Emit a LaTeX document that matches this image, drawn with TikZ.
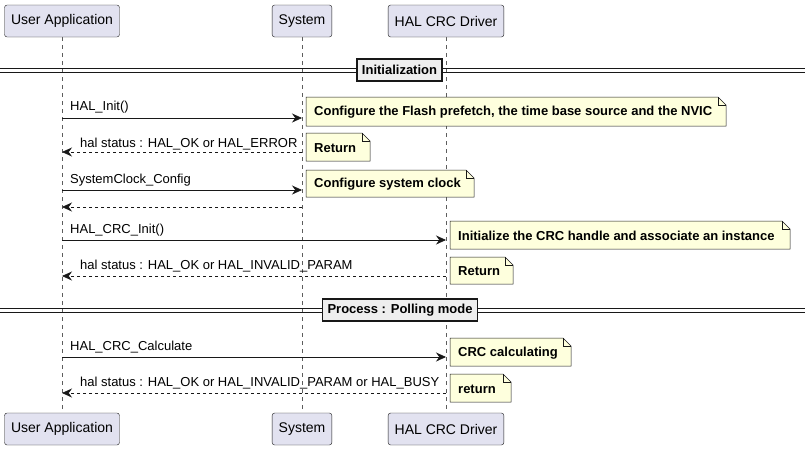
\documentclass[tikz,border=0pt]{standalone}
\usepackage{fontspec}
\setmainfont{Liberation Sans}
\usetikzlibrary{arrows.meta}
\definecolor{part}{HTML}{E2E2F0}
\definecolor{notef}{HTML}{FEFFDD}
\definecolor{ln}{HTML}{181818}
\definecolor{divf}{HTML}{EEEEEE}
\begin{document}
\begin{tikzpicture}[x=1pt,y=-1pt,
  font=\fontsize{13}{15}\selectfont,
  part/.style={draw=ln,fill=part,rounded corners=2.5pt,minimum height=32pt,inner xsep=6.5pt,font=\fontsize{14}{16}\selectfont},
  life/.style={draw=ln!70,dash pattern=on 4pt off 4pt,line width=0.5pt},
  msg/.style={draw=ln,line width=0.7pt,-{Stealth[length=10pt,width=9pt]}},
  ret/.style={msg,dash pattern=on 3pt off 3pt},
  mlab/.style={anchor=south west,inner sep=1pt},
  divb/.style={draw=ln,fill=divf,line width=1.2pt,font=\bfseries\fontsize{13}{15}\selectfont,minimum height=22pt,inner xsep=5pt}]
\useasboundingbox (0,0) rectangle (805,450);
\def\notebox#1#2#3#4#5#6{%
  \draw[ln,fill=notef,line width=0.5pt] (#2,#3) -- ({#4-8},#3) -- (#4,{#3+8}) -- (#4,#5) -- (#2,#5) -- cycle;
  \draw[ln,line width=0.5pt] ({#4-8},#3) -- ({#4-8},{#3+8}) -- (#4,{#3+8});
  \node[anchor=west,font=\bfseries\fontsize{13}{15}\selectfont,inner sep=0pt] (#1) at ({#2+8},{(#3+#5)/2+1}) {#6};}
% lifelines
\coordinate (ua1) at (62,37); \coordinate (ua2) at (62,413);
\coordinate (sy1) at (302,37); \coordinate (sy2) at (302,413);
\coordinate (hd1) at (446,37); \coordinate (hd2) at (446,413);
\draw[life] (ua1)--(ua2); \draw[life] (sy1)--(sy2); \draw[life] (hd1)--(hd2);
% participants
\node[part] (uaT) at (62,21) {User Application};
\node[part] (syT) at (302,21) {System};
\node[part] (hdT) at (446,21) {HAL CRC Driver};
\node[part] (uaB) at (62,429) {User Application};
\node[part] (syB) at (302,429) {System};
\node[part] (hdB) at (446,429) {HAL CRC Driver};
% dividers
\draw[ln,line width=0.7pt] (0,68)--(805,68) (0,72)--(805,72);
\node[divb] (d1) at (399.5,70) {Initialization};
\draw[ln,line width=0.7pt] (0,308)--(805,308) (0,312)--(805,312);
\node[divb] (d2) at (400,310) {Process : Polling mode};
% messages
\coordinate (u1) at (62,118); \coordinate (s1) at (302,118);
\draw[msg] (u1)--(s1); \node[mlab] at (69,114) {HAL\_Init()};
\notebox{n1}{306}{97}{726}{126}{Configure the Flash prefetch, the time base source and the NVIC}
\coordinate (u2) at (62,152); \coordinate (s2) at (302,152);
\draw[ret] (s2)--(u2); \node[mlab] at (79,151) {hal status : HAL\_OK or HAL\_ERROR};
\notebox{n2}{306}{133}{370}{161}{Return}
\coordinate (u3) at (62,190); \coordinate (s3) at (302,190);
\draw[msg] (u3)--(s3); \node[mlab] at (69,187) {SystemClock\_Config};
\notebox{n3}{306}{170}{474}{197}{Configure system clock}
\coordinate (u4) at (62,207); \coordinate (s4) at (302,207);
\draw[ret] (s4)--(u4);
\coordinate (u5) at (62,240); \coordinate (h5) at (446,240);
\draw[msg] (u5)--(h5); \node[mlab] at (69,237) {HAL\_CRC\_Init()};
\notebox{n5}{450}{221}{790}{249}{Initialize the CRC handle and associate an instance}
\coordinate (u6) at (62,276); \coordinate (h6) at (446,276);
\draw[ret] (h6)--(u6); \node[mlab] at (79,273) {hal status : HAL\_OK or HAL\_INVALID\_PARAM};
\notebox{n6}{450}{257}{513}{284}{Return}
\coordinate (u7) at (62,357); \coordinate (h7) at (446,357);
\draw[msg] (u7)--(h7); \node[mlab] at (69,354) {HAL\_CRC\_Calculate};
\notebox{n7}{450}{338}{571}{366}{CRC calculating}
\coordinate (u8) at (62,393); \coordinate (h8) at (446,393);
\draw[ret] (h8)--(u8); \node[mlab] at (79,390) {hal status : HAL\_OK or HAL\_INVALID\_PARAM or HAL\_BUSY};
\notebox{n8}{450}{374}{511}{402}{return}
\end{tikzpicture}
\end{document}
